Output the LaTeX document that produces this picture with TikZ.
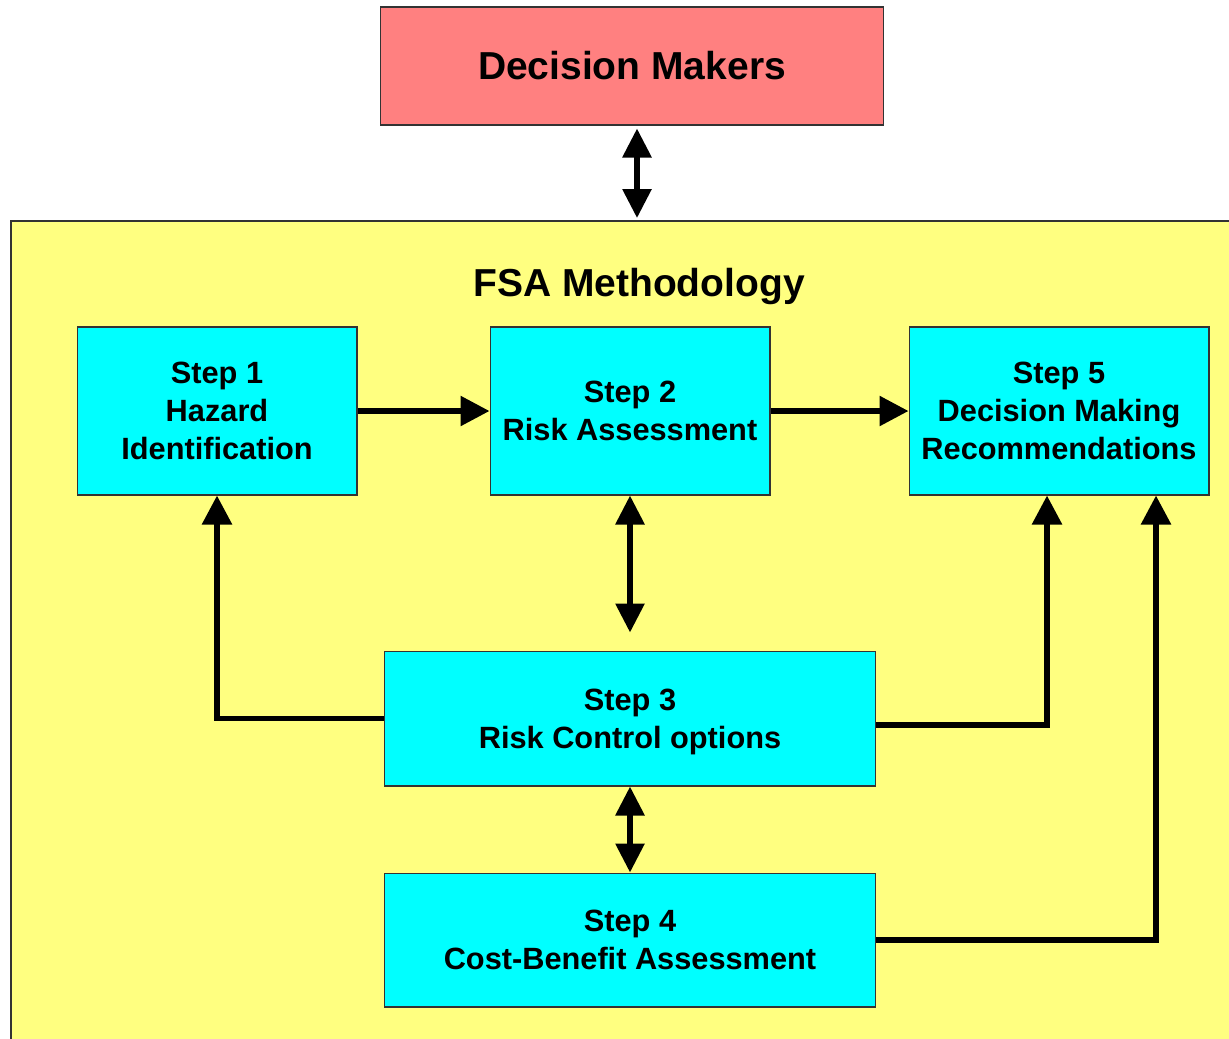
\documentclass[tikz,border=0pt]{standalone}
\usepackage{fontspec}
\setmainfont{Liberation Sans}
\usetikzlibrary{arrows.meta,positioning,calc}
\definecolor{fsaInk}{HTML}{000000}
\definecolor{fsaEdge}{HTML}{333333}
\definecolor{fsaRose}{HTML}{FF8080}
\definecolor{fsaSun}{HTML}{FFFF80}
\definecolor{fsaCyan}{HTML}{00FFFF}
\tikzset{
  box/.style      ={draw=fsaEdge,line width=0.6pt,inner sep=2pt,align=center,
                    font=\fontsize{17.5}{21.6}\selectfont\bfseries},
  stepbox/.style  ={box,fill=fsaCyan,text depth=-1pt},
  dmbox/.style    ={box,fill=fsaRose,font=\fontsize{22.2}{26}\selectfont\bfseries},
  frame/.style    ={draw=fsaEdge,line width=0.6pt,fill=fsaSun},
  ttl/.style      ={font=\fontsize{22.2}{26}\selectfont\bfseries,text=fsaInk},
  link/.style     ={-{Triangle[length=16.5pt,width=16.5pt]},fsaInk,line width=3.2pt},
  dlink/.style    ={{Triangle[length=16.5pt,width=16pt]}-{Triangle[length=16.5pt,width=16pt]},
                    fsaInk,line width=3.2pt},
}
\begin{document}
\begin{tikzpicture}[x=0.02cm,y=-0.02cm]
\useasboundingbox (0,0) rectangle (1229,1038);
\clip (0,0) rectangle (1229,1038);

% outer frame of the methodology
\draw[frame] (11,221) rectangle (1250,1060);
\node[ttl] (title) at (639,286) {FSA Methodology};

\node[dmbox,minimum width=10.08cm,minimum height=2.36cm] (dm) at (632,66) {Decision Makers};
\coordinate (top) at (637,218);

% the five steps
\node[stepbox,minimum width=5.6cm,minimum height=3.36cm] (s1) at (217,411)
  {Step 1\\Hazard\\Identification};
\node[stepbox,minimum width=5.6cm,minimum height=3.36cm] (s2) at (630,411)
  {Step 2\\Risk Assessment};
\node[stepbox,minimum width=6.0cm,minimum height=3.36cm] (s5) at (1059,411)
  {Step 5\\Decision Making\\Recommendations};
\node[stepbox,minimum width=9.84cm,minimum height=2.7cm] (s3) at (630,718.5)
  {Step 3\\Risk Control options};
\node[stepbox,minimum width=9.84cm,minimum height=2.68cm] (s4) at (630,940)
  {Step 4\\Cost-Benefit Assessment};

\draw[dlink] (dm.south -| top) ++(0,3) -- (top);
\draw[link] (s1) -- (s2);
\draw[link] (s2) -- (s5);
\draw[dlink] (s2.south) -- ($(s3.north)+(0,-18)$);
\draw[dlink] (s3.south) -- (s4.north);

% feedback lines
\draw[link] (s3.west) -| (s1.south);
\draw[link] ($(s3.east)+(0,6.5)$) -| ($(s5.south)+(-12,0)$);
\draw[link] (s4.east) -| ($(s5.south)+(97,0)$);
\end{tikzpicture}
\end{document}
